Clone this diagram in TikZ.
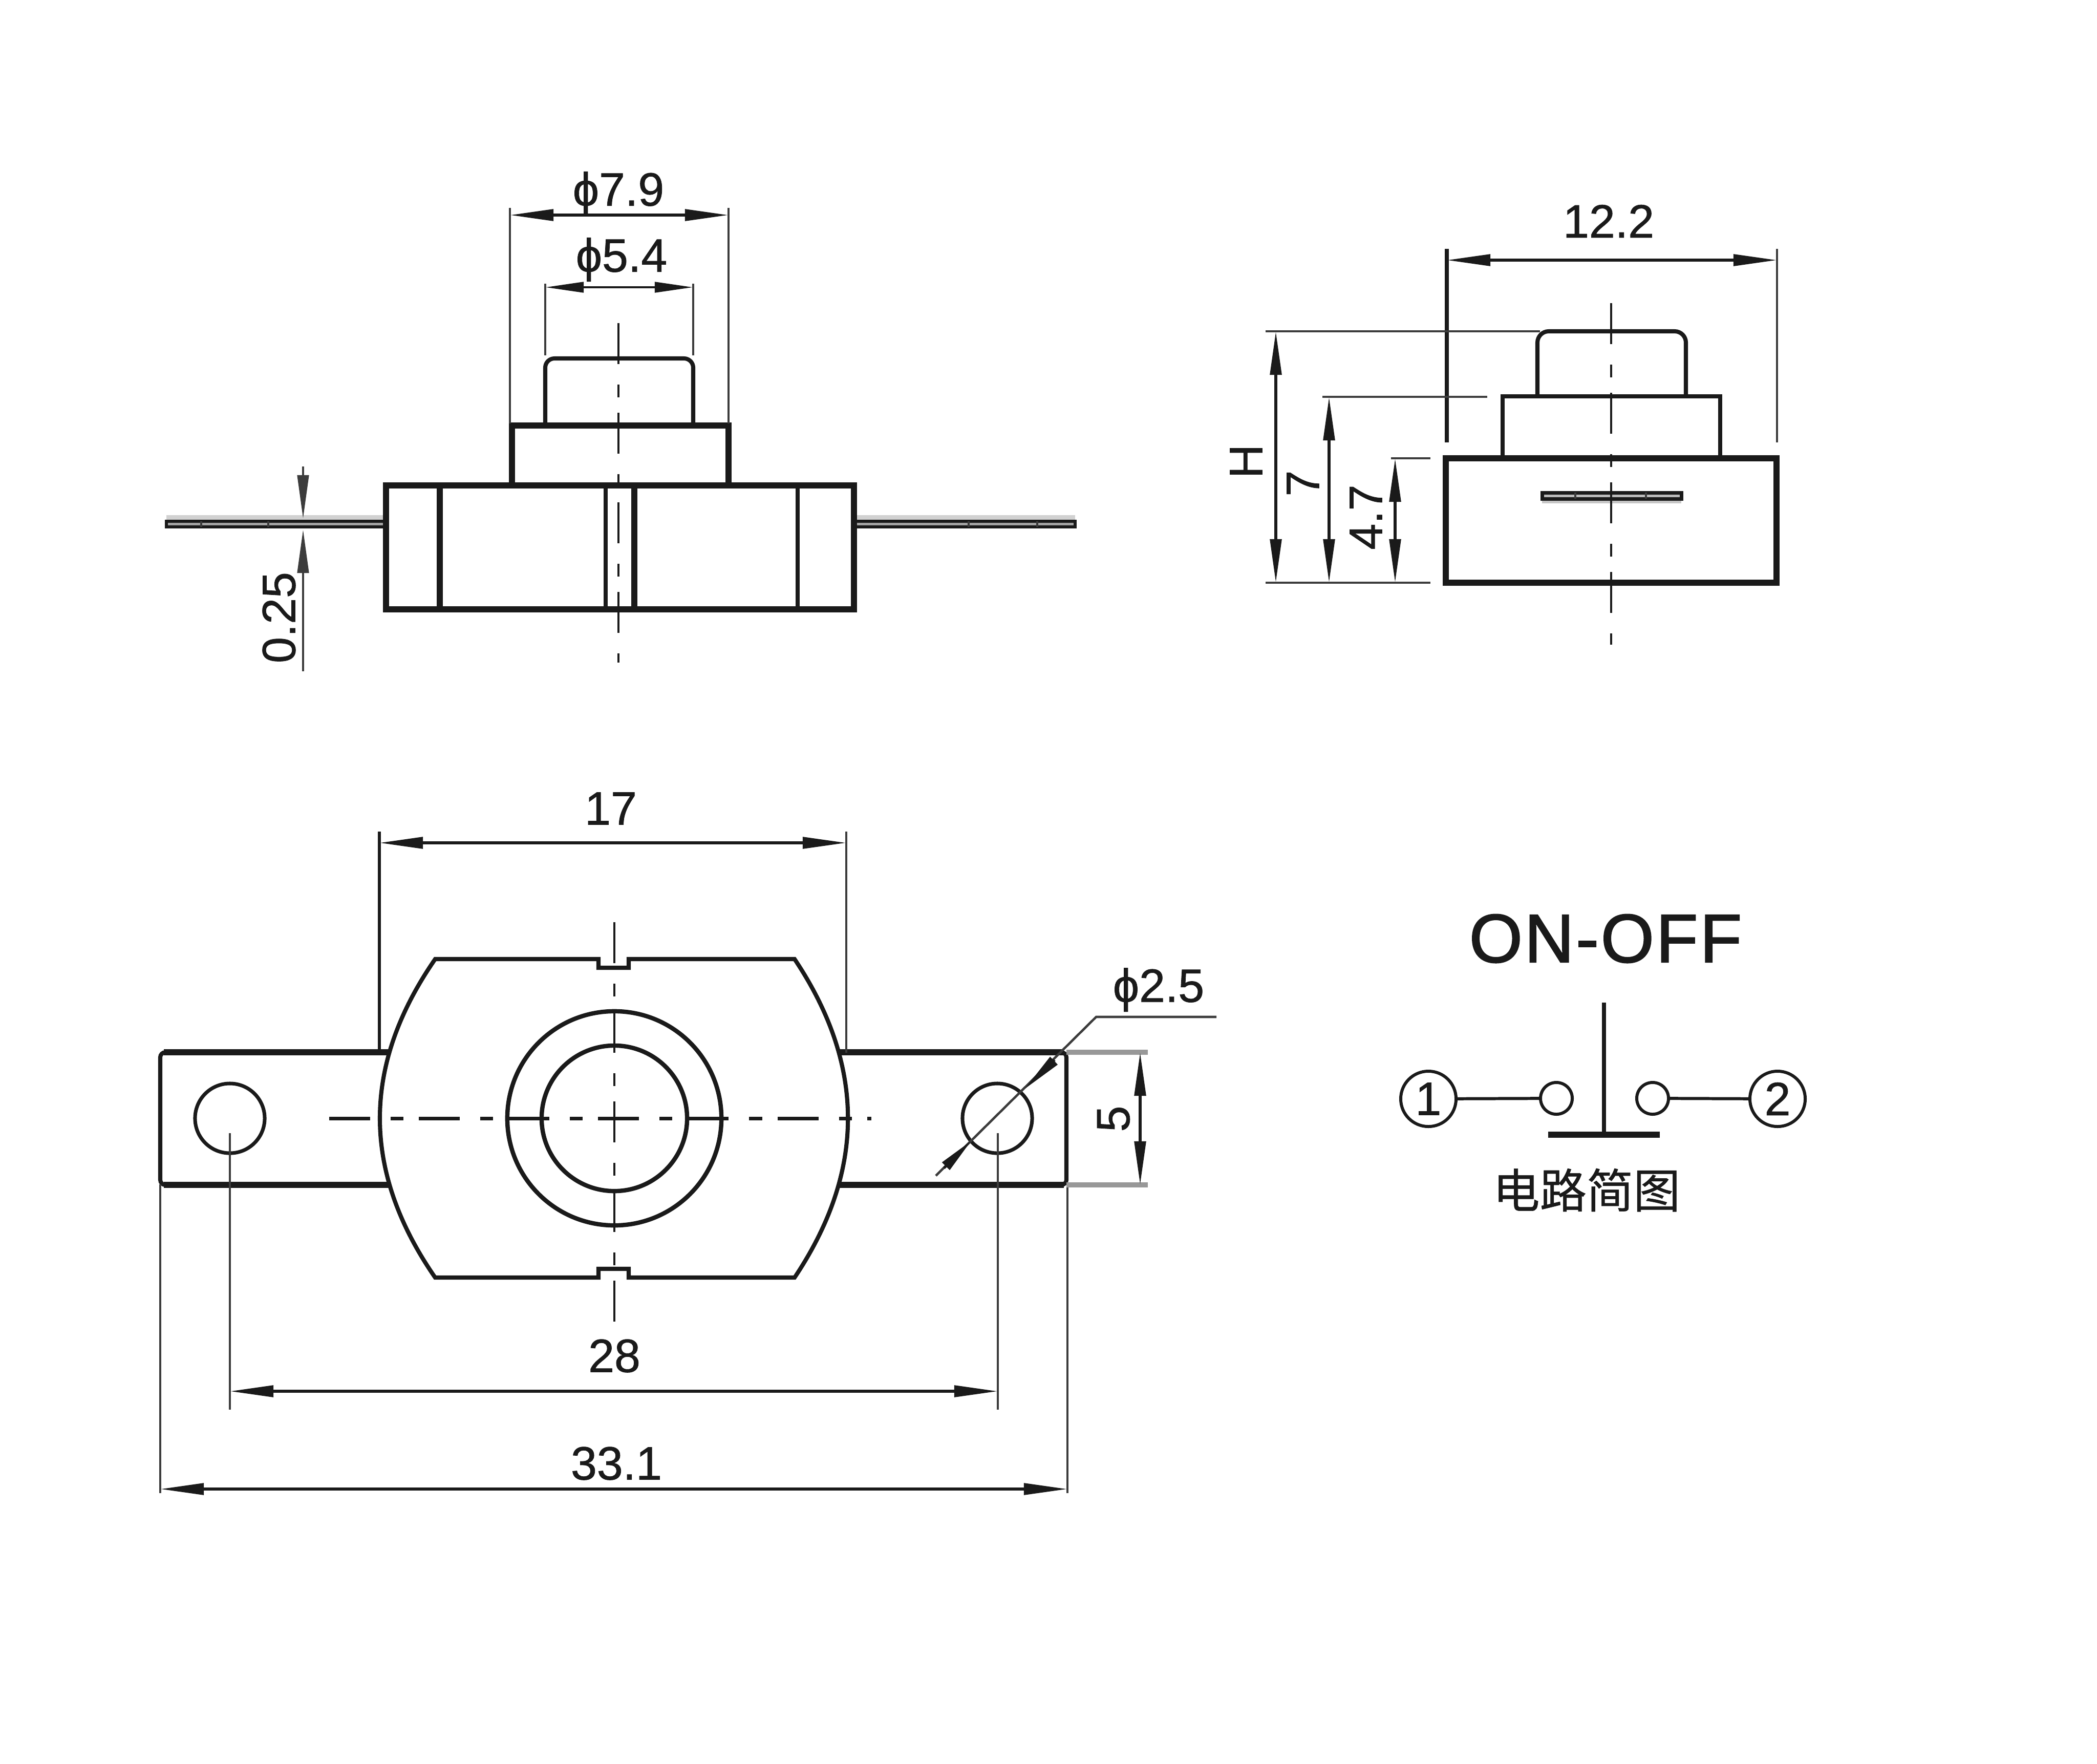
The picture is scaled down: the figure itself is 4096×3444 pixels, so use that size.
\documentclass[tikz,border=0pt]{standalone}
\usepackage{fontspec}
\setmainfont{Liberation Sans}
\newfontfamily\dimfont[FakeBold=0.9]{Liberation Sans}
\newfontfamily\titlefont[FakeBold=1.8,LetterSpace=3]{Liberation Sans}
\newfontfamily\cjk[FakeBold=0.6]{Noto Sans CJK SC}
\usetikzlibrary{arrows.meta}
\definecolor{ink}{HTML}{1A1A1A}
\tikzset{
    dimtip/.tip={Triangle[length=0.85cm,width=0.22cm]},
    smalltip/.tip={Triangle[length=0.75cm,width=0.2cm]},
    outline/.style={draw=ink, line width=3.3pt},
    midline/.style={draw=ink, line width=2.3pt},
    extline/.style={draw=ink!85, line width=1.3pt},
    dimline/.style={draw=ink, line width=1.6pt, dimtip-dimtip},
    smalldim/.style={draw=ink, line width=1.4pt, smalltip-smalltip},
    center/.style={draw=ink, line width=1pt, dash pattern=on .8cm off .4cm on .25cm off .3cm},
    dimtext/.style={inner sep=0pt, text=ink, font=\dimfont\fontsize{26}{26}\selectfont},
    contact/.style={draw=ink, circle, line width=1.7pt, minimum size=0.62cm, inner sep=0pt},
    terminal/.style={draw=ink, circle, line width=1.7pt, minimum size=1.08cm, inner sep=0pt, text=ink, font=\dimfont\fontsize{26}{26}\selectfont},
}
\begin{document}
\begin{tikzpicture}[x=0.01cm, y=-0.01cm]
        \useasboundingbox (0,0) rectangle (4096,3444);

        \fill[ink!20] (325,1006) rectangle (2100,1018);
        \draw[draw=ink, line width=1.8pt, fill=ink!40] (325,1018) rectangle (754,1029);
        \draw[draw=ink, line width=1.8pt, fill=ink!40] (1668,1018) rectangle (2100,1029);
        \foreach \tickx in {393,524,1892,2026}
            \draw[extline] (\tickx,1018) -- (\tickx,1029);
        \draw[midline, rounded corners=0.18cm] (1065,829) -- (1065,700) -- (1354,700) -- (1354,829);
        \draw[outline, fill=white] (754,948) rectangle (1668,1190);
        \draw[outline] (1000,946) -- (1000,831) -- (1423,831) -- (1423,946);
        \draw[outline] (859,948) -- (859,1190);
        \draw[outline] (1239,948) -- (1239,1190);
        \draw[midline] (1183,948) -- (1183,1190);
        \draw[midline] (1558,948) -- (1558,1190);
        \coordinate (frontTop) at (1208,631);
        \coordinate (frontEnd) at (1208,1294);
        \draw[center] (frontTop) -- (frontEnd);

        \coordinate (d79a) at (996,420);
        \coordinate (d79b) at (1423,420);
        \coordinate (d54a) at (1065,561);
        \coordinate (d54b) at (1354,561);
        \draw[extline] (996,406) -- (996,827);
        \draw[extline] (1423,406) -- (1423,827);
        \draw[extline] (1065,554) -- (1065,694);
        \draw[extline] (1354,554) -- (1354,694);
        \draw[dimline] (d79a) -- (d79b);
        \draw[smalldim] (d54a) -- (d54b);
        \node[dimtext] (t79) at (1208,378) {ϕ7.9};
        \node[dimtext] (t54) at (1214,507) {ϕ5.4};

        \coordinate (d25a) at (592,911);
        \coordinate (d25b) at (592,1013);
        \coordinate (d25c) at (592,1034);
        \coordinate (d25d) at (592,1311);
        \draw[extline, -{dimtip}] (d25a) -- (d25b);
        \draw[extline, -{dimtip}] (d25d) -- (d25c);
        \node[dimtext, rotate=90] (t25) at (545,1206) {0.25};

        \draw[midline, rounded corners=0.22cm] (3003,773) -- (3003,647) -- (3293,647) -- (3293,773);
        \draw[midline] (2935,893) -- (2935,774) -- (3360,774) -- (3360,893);
        \draw[outline] (2824,895) rectangle (3470,1138);
        \fill[ink!25] (3012,974) rectangle (3284,983);
        \draw[draw=ink, line width=2pt, fill=ink!30] (3012,962) rectangle (3284,974);
        \foreach \tickx in {3077,3215}
            \draw[extline] (\tickx,962) -- (\tickx,974);
        \coordinate (sideTop) at (3147,592);
        \coordinate (sideEnd) at (3147,1259);
        \draw[center] (sideTop) -- (sideEnd);

        \coordinate (d122a) at (2826,508);
        \coordinate (d122b) at (3471,508);
        \draw[midline] (2826,486) -- (2826,864);
        \draw[extline] (3471,486) -- (3471,864);
        \draw[dimline] (d122a) -- (d122b);
        \node[dimtext] (t122) at (3142,432) {12.2};

        \draw[extline] (2472,647) -- (3008,647);
        \draw[extline] (2583,775) -- (2905,775);
        \draw[extline] (2717,895) -- (2794,895);
        \draw[extline] (2472,1138) -- (2794,1138);
        \coordinate (dHa) at (2492,647);
        \coordinate (dHb) at (2492,1138);
        \coordinate (d7a) at (2596,775);
        \coordinate (d7b) at (2596,1138);
        \coordinate (d47a) at (2725,895);
        \coordinate (d47b) at (2725,1138);
        \draw[dimline] (dHa) -- (dHb);
        \draw[dimline] (d7a) -- (d7b);
        \draw[dimline] (d47a) -- (d47b);
        \node[dimtext, rotate=90] (tH) at (2434,901) {H};
        \node[dimtext, rotate=90] (t7) at (2545,944) {7};
        \node[dimtext, rotate=90] (t47) at (2668,1010) {4.7};

        \draw[midline, rounded corners=0.1cm] (760,2055) -- (313,2055) -- (313,2314) -- (760,2314);
        \draw[midline, rounded corners=0.1cm] (1640,2055) -- (2083,2055) -- (2083,2314) -- (1640,2314);
        \draw[outline] (320,2055) -- (760,2055);
        \draw[outline] (320,2314) -- (760,2314);
        \draw[outline] (1640,2055) -- (2078,2055);
        \draw[outline] (1640,2314) -- (2078,2314);
        \draw[midline, fill=white] (850,1873) -- (1169,1873) -- (1169,1890) -- (1228,1890) -- (1228,1873) -- (1552,1873)
            .. controls (1691,2081) and (1691,2287) .. (1552,2495)
            -- (1228,2495) -- (1228,2478) -- (1169,2478) -- (1169,2495) -- (850,2495)
            .. controls (706,2287) and (706,2081) .. (850,1873) -- cycle;
        \node[draw=ink, line width=2.4pt, circle, minimum size=4.18cm, inner sep=0pt] (ringOut) at (1200,2184) {};
        \node[draw=ink, line width=2.4pt, circle, minimum size=2.84cm, inner sep=0pt] (ringIn) at (1200,2184) {};
        \node[draw=ink, line width=2pt, circle, minimum size=1.36cm, inner sep=0pt] (holeL) at (449,2184) {};
        \node[draw=ink, line width=2pt, circle, minimum size=1.36cm, inner sep=0pt] (holeR) at (1948,2184) {};
        \coordinate (planTop) at (1200,1801);
        \coordinate (planEnd) at (1200,2600);
        \coordinate (planL) at (643,2184);
        \coordinate (planR) at (1702,2184);
        \draw[center] (planTop) -- (planEnd);
        \draw[center, line width=2pt] (planL) -- (planR);

        \coordinate (d17a) at (741,1646);
        \coordinate (d17b) at (1653,1646);
        \coordinate (d28a) at (449,2717);
        \coordinate (d28b) at (1949,2717);
        \coordinate (d331a) at (313,2908);
        \coordinate (d331b) at (2085,2908);
        \draw[midline, line width=1.8pt] (741,1624) -- (741,2056);
        \draw[extline] (1653,1624) -- (1653,2056);
        \draw[extline] (449,2213) -- (449,2753);
        \draw[extline] (1949,2213) -- (1949,2753);
        \draw[extline] (313,2313) -- (313,2916);
        \draw[extline] (2085,2313) -- (2085,2916);
        \draw[dimline] (d17a) -- (d17b);
        \draw[dimline] (d28a) -- (d28b);
        \draw[dimline] (d331a) -- (d331b);
        \node[dimtext] (t17) at (1193,1579) {17};
        \node[dimtext] (t28) at (1200,2648) {28};
        \node[dimtext] (t331) at (1204,2858) {33.1};

        \coordinate (d5a) at (2227,2055);
        \coordinate (d5b) at (2227,2314);
        \draw[draw=ink!45, line width=2.6pt] (2083,2055) -- (2242,2055);
        \draw[draw=ink!45, line width=2.6pt] (2083,2314) -- (2242,2314);
        \draw[dimline] (d5a) -- (d5b);
        \node[dimtext, rotate=90] (t5) at (2175,2185) {5};

        \coordinate (leadEnd) at (2376,1986);
        \coordinate (leadBend) at (2141,1986);
        \coordinate (leadFoot) at (1828,2296);
        \coordinate (tipUp) at (2001,2127);
        \coordinate (tipDown) at (1897,2228);
        \coordinate (baseUp) at (2060,2070);
        \coordinate (baseDown) at (1844,2281);
        \draw[extline] (leadEnd) -- (leadBend) -- (leadFoot);
        \draw[draw=ink, line width=1.4pt, {Triangle[length=0.8cm,width=0.2cm]}-] (tipUp) -- (baseUp);
        \draw[draw=ink, line width=1.4pt, {Triangle[length=0.7cm,width=0.2cm]}-] (tipDown) -- (baseDown);
        \node[dimtext] (t25d) at (2263,1933) {ϕ2.5};

        \node[inner sep=0pt, text=ink, font=\titlefont\fontsize{38}{38}\selectfont] (onoff) at (3136,1833) {ON-OFF};
        \node[terminal] (term1) at (2790,2146) {1};
        \node[terminal] (term2) at (3472,2146) {2};
        \node[contact] (cont1) at (3040,2145) {};
        \node[contact] (cont2) at (3228,2145) {};
        \coordinate (stemTop) at (3133,1958);
        \coordinate (stemEnd) at (3133,2216);
        \coordinate (barL) at (3024,2216);
        \coordinate (barR) at (3242,2216);
        \draw[line width=1.7pt, draw=ink] (term1) -- (cont1);
        \draw[line width=1.7pt, draw=ink] (cont2) -- (term2);
        \draw[midline] (stemTop) -- (stemEnd);
        \draw[outline] (barL) -- (barR);
        \node[inner sep=0pt, text=ink, font=\cjk\fontsize{26}{26}\selectfont] (caption) at (3099,2324) {电路简图};
    \end{tikzpicture}
\end{document}
